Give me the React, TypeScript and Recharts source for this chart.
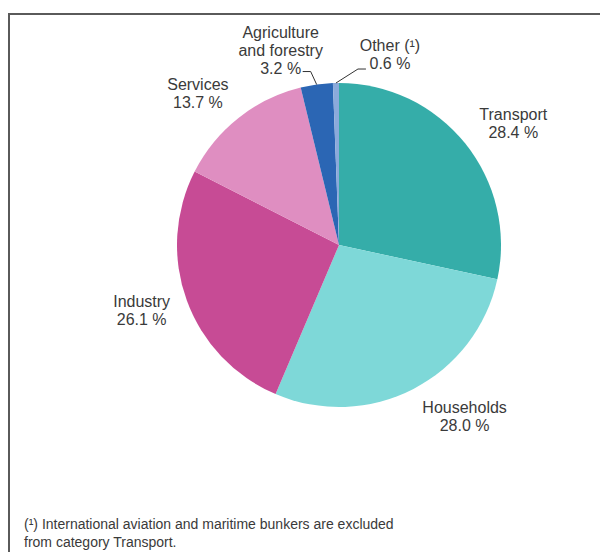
import React from 'react';
import { PieChart, Pie, Cell } from 'recharts';

const sectors = ['Transport', 'Households', 'Industry', 'Services', 'Agriculture\nand forestry', 'Other (¹)'];
const shares = [28.4, 28.0, 26.1, 13.7, 3.2, 0.6];
const colors = ['#35ADA9', '#7ED8D8', '#C74B95', '#DF8EC1', '#2B66B4', '#8BAADB'];

const data = sectors.map((name, i) => ({ name, value: shares[i] }));

const RADIAN = Math.PI / 180;
const FONT = '"Liberation Sans", Arial, sans-serif';
const TEXT = '#3a3a3a';
const FS = 16;

// rough text width, good enough to centre the two label lines
const textWidth = (t: string) =>
  [...t].reduce((w, c) => w + (/[iltrfj .'()¹]/.test(c) ? 0.28 : /[A-Z%]/.test(c) ? 0.68 : 0.55), 0) * FS;

const renderLabel = (props: any) => {
  const { cx, cy, midAngle, outerRadius, index, name, value } = props;
  const cos = Math.cos(-midAngle * RADIAN);
  const sin = Math.sin(-midAngle * RADIAN);
  const lines = [...String(name).split('\n'), `${value.toFixed(1)} %`];
  const style = { fontFamily: FONT, fontSize: FS, fill: TEXT };

  if (value < 5) {
    // small slices get a leader line, the first one to the left, the last one to the right
    const ex = cx + outerRadius * cos;
    const ey = cy + outerRadius * sin;
    const right = index === data.length - 1;
    const dir = right ? 1 : -1;
    const p1 = right ? { x: ex + 22, y: ey - 14 } : { x: ex - 6, y: ey - 13 };
    const p2 = { x: p1.x + dir * 8, y: p1.y };
    const tx = p2.x + dir * (right ? 24 : 22);
    const lastY = p2.y - (right ? 6 : 3);
    return (
      <g>
        <polyline points={`${ex},${ey} ${p1.x},${p1.y} ${p2.x},${p2.y}`} fill="none" stroke="#333" strokeWidth={1} />
        {lines.map((t, i) => (
          <text key={i} x={tx} y={lastY - (lines.length - 1 - i) * 18} textAnchor="middle" dominantBaseline="central" {...style}>
            {t}
          </text>
        ))}
      </g>
    );
  }

  const ax = cx + (outerRadius + (cos >= 0 ? 18 : 14)) * cos;
  const ay = cy + (outerRadius + 31) * sin;
  const w = Math.max(...lines.map(textWidth));
  const x = cos >= 0 ? ax + w / 2 : ax - w / 2;
  return (
    <g>
      {lines.map((t, i) => (
        <text key={i} x={x} y={ay + (i - (lines.length - 1) / 2) * 18} textAnchor="middle" dominantBaseline="central" {...style}>
          {t}
        </text>
      ))}
    </g>
  );
};

export default function App() {
  return (
    <div style={{ position: 'relative', width: 600, height: 544, overflow: 'hidden' }}>
      <div
        style={{
          position: 'absolute',
          left: 0,
          top: 5,
          width: 620,
          height: 600,
          borderTop: '2px solid #5a5a5a',
          borderLeft: '2px solid #5a5a5a',
        }}
      />
      <PieChart
        width={600}
        height={544}
        margin={{ top: 0, right: 0, bottom: 0, left: 0 }}
        style={{ position: 'absolute', left: 0, top: 0 }}
      >
        <Pie
          data={data}
          dataKey="value"
          nameKey="name"
          cx={331}
          cy={237}
          outerRadius={162}
          startAngle={90}
          endAngle={-270}
          stroke="none"
          label={renderLabel}
          labelLine={false}
          isAnimationActive={false}
        >
          {data.map((d, i) => (
            <Cell key={d.name} fill={colors[i]} />
          ))}
        </Pie>
      </PieChart>
      <div
        style={{
          position: 'absolute',
          left: 16,
          top: 507,
          fontFamily: FONT,
          fontSize: 14,
          lineHeight: '18px',
          color: TEXT,
        }}
      >
        (¹) International aviation and maritime bunkers are excluded
        <br />
        from category Transport.
      </div>
    </div>
  );
}
